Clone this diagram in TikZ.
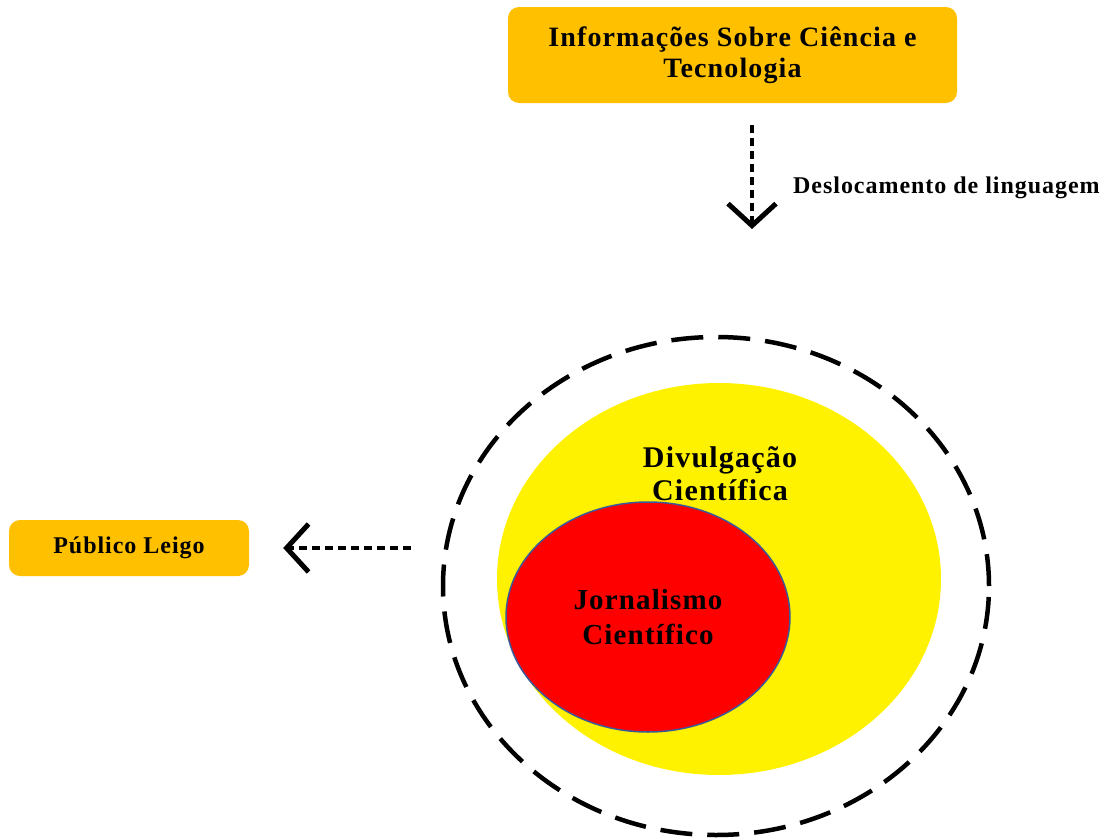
\documentclass[tikz,border=0pt]{standalone}
\usepackage{fontspec}
\setmainfont[LetterSpace=4]{Liberation Serif}
\usetikzlibrary{positioning,arrows.meta,shapes.geometric}
\definecolor{gold}{HTML}{FFC000}
\definecolor{rimblue}{HTML}{3B5A9A}
\newcommand\fs[2]{\fontsize{#1}{#2}\selectfont\bfseries}

\begin{document}
\begin{tikzpicture}[x=1pt,y=-1pt,
	box/.style={fill=gold,rounded corners=11pt,align=center,inner sep=0pt},
	dasharrow/.style={line width=4.5pt,dash pattern=on 8pt off 5pt,
		-{Straight Barb[length=22pt,width=48pt,line width=5pt]}}]
	%% frame
	\useasboundingbox (0,0) rectangle (1112,838);
	
	\def\ringX{716} % centre of the rings
	\def\ringY{586}
	
	% boxes
	\node[box,minimum width=449pt,minimum height=96pt,font=\fs{28}{32}] (info) at (732.5,55)
		{\raisebox{-3pt}{\shortstack{Informações Sobre Ciência e\\[3pt]Tecnologia}}};
	\node[box,minimum width=240pt,minimum height=56pt,font=\fs{24}{26}] (publico) at (129,548)
		{Público Leigo};
	
	% rings
	\node[ellipse,fill=yellow,minimum width=444pt,minimum height=392pt] (divulg) at (719,579) {};
	\node[ellipse,draw,line width=4.5pt,dash pattern=on 32pt off 15pt,
		minimum width=546pt,minimum height=498pt] (ring) at (\ringX,\ringY) {};
	\node[ellipse,fill=red,draw=rimblue,line width=1.5pt,minimum width=284pt,minimum height=230pt,
		align=center,font=\fs{29}{35}] (jorn) at (648,617) {Jornalismo\\Científico};
	\node[align=center,font=\fs{30}{33}] (divtxt) at (720,474) {Divulgação\\Científica};
	
	% arrows
	\coordinate (dtop) at (752,125);
	\coordinate (dbot) at (752,229);
	\draw[dasharrow] (dtop) -- (dbot);
	\node[anchor=west,font=\fs{24}{28},inner sep=0pt] (desloc) at (793,188) {Deslocamento de linguagem};
	
	\draw[dasharrow,shorten <=30pt,shorten >=34pt] (publico.east -| ring.west) -- (publico.east);
\end{tikzpicture}
\end{document}
